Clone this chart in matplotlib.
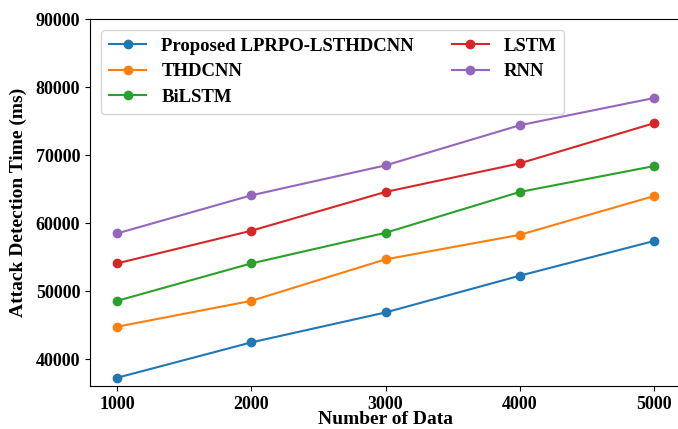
import matplotlib.pyplot as plt

# Data
num_data = [1000, 2000, 3000, 4000, 5000]
proposed = [37300, 42500, 46900, 52300, 57400]
thdcnn = [44800, 48600, 54700, 58300, 64000]
bilstm = [48600, 54100, 58600, 64600, 68400]
lstm = [54100, 58900, 64600, 68800, 74700]
rnn = [58500, 64100, 68500, 74400, 78400]

plt.rcParams['font.family'] = ['Liberation Serif', 'DejaVu Serif']
plt.rcParams['font.weight'] = 'bold'

fig = plt.figure(figsize=(6.78, 4.29), dpi=100)
ax = fig.add_axes([90 / 678, 1 - 386 / 429, 591 / 678, 367 / 429])

ax.plot(num_data, proposed, marker='o', color='tab:blue', label='Proposed LPRPO-LSTHDCNN')
ax.plot(num_data, thdcnn, marker='o', color='tab:orange', label='THDCNN')
ax.plot(num_data, bilstm, marker='o', color='tab:green', label='BiLSTM')
ax.plot(num_data, lstm, marker='o', color='tab:red', label='LSTM')
ax.plot(num_data, rnn, marker='o', color='tab:purple', label='RNN')

ax.set_xlim(800, 5200)
ax.set_ylim(36100, 90000)
ax.set_xticks(num_data)
ax.set_yticks([40000, 50000, 60000, 70000, 80000, 90000])
ax.tick_params(labelsize=13)
for lbl in ax.get_xticklabels() + ax.get_yticklabels():
    lbl.set_fontweight('bold')

ax.set_xlabel('Number of Data', fontsize=14, fontweight='bold', labelpad=-1)
ax.set_ylabel('Attack Detection Time (ms)', fontsize=14, fontweight='bold', labelpad=6)

ax.legend(loc='upper left', ncol=2, prop={'weight': 'bold', 'size': 13.5},
          labelspacing=0.45, borderaxespad=0.6)

fig.savefig('out.png', dpi=100)
